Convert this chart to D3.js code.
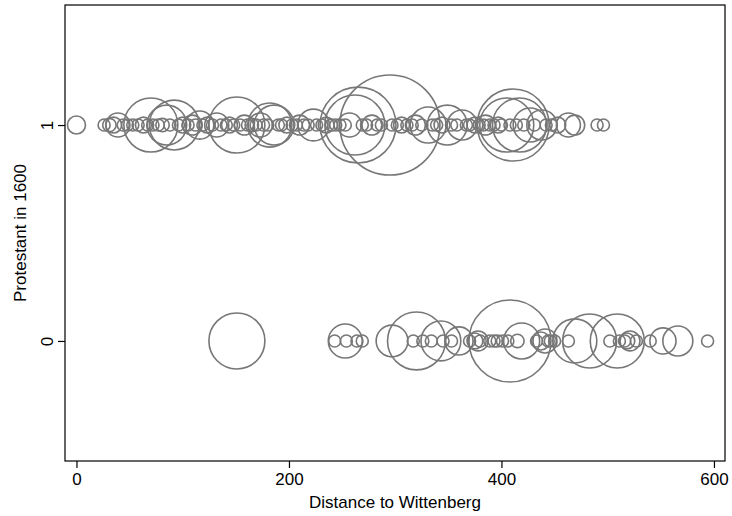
<!DOCTYPE html>
<html>
<head>
<meta charset="utf-8">
<script src="https://cdn.jsdelivr.net/npm/d3@7/dist/d3.min.js"></script>
<style>
  html, body { margin: 0; padding: 0; background: #fff; }
  svg { display: block; }
  text { font-family: "Liberation Sans", Arial, Helvetica, sans-serif; fill: #000; }
</style>
</head>
<body>
<svg id="chart" width="732" height="516"></svg>
<script>
// ---- Data ----
// Protestant in 1600 = 0
const dist0 = [151, 243, 254, 264, 269, 253, 297, 317, 320, 326, 334, 343, 345, 353, 360, 370, 375, 378, 380, 389,
  393, 396, 401, 406, 408, 415, 419, 433, 437, 441, 444, 446, 450, 463, 469, 483, 509, 502, 511, 516,
  518, 521, 527, 540, 552, 566, 594];
const weight0 = [87, 4, 4, 4, 4, 32, 28, 4, 93, 4, 4, 44, 4, 4, 22, 4, 7, 11, 4, 4,
  4, 4, 4, 4, 187, 5, 36, 4, 9, 16, 4, 4, 4, 4, 54, 81, 81, 4, 4, 4,
  7, 11, 4, 4, 19, 25, 4];
// Protestant in 1600 = 1
const dist1 = [0, 26, 31, 35, 39, 44, 48, 53, 58, 63, 67, 70, 72, 77, 81, 85, 88, 92, 96, 100,
  105, 109, 112, 116, 119, 123, 128, 132, 136, 141, 144, 148, 151, 154, 158, 161, 165, 169, 173, 176,
  180, 182, 186, 190, 193, 198, 203, 207, 210, 214, 218, 223, 226, 231, 235, 240, 244, 248, 253, 257,
  262, 265, 269, 273, 278, 283, 287, 295, 297, 302, 306, 311, 316, 319, 325, 331, 335, 339, 344, 349,
  353, 358, 363, 367, 370, 375, 379, 383, 385, 389, 393, 397, 400, 405, 408, 411, 414, 417, 421, 427,
  431, 438, 442, 447, 453, 463, 469, 490, 496];
const weight1 = [9, 4, 5, 7, 16, 4, 4, 4, 4, 7, 4, 81, 4, 4, 5, 44, 4, 69, 4, 7,
  4, 11, 4, 22, 4, 7, 4, 16, 4, 4, 7, 4, 87, 4, 11, 4, 5, 4, 16, 4,
  4, 54, 44, 4, 4, 7, 4, 4, 11, 4, 4, 28, 4, 4, 7, 4, 4, 4, 4, 16,
  100, 160, 4, 4, 11, 4, 4, 278, 4, 4, 7, 4, 4, 11, 4, 36, 4, 4, 7, 44,
  4, 4, 25, 4, 4, 7, 4, 4, 11, 4, 4, 7, 4, 81, 4, 144, 4, 81, 4, 32,
  4, 25, 4, 4, 7, 16, 11, 4, 4];
const xTicks = [0, 200, 400, 600];
const yTicks = [0, 1];
const xTitle = "Distance to Wittenberg";
const yTitle = "Protestant in 1600";

// ---- Layout ----
const svg = d3.select("#chart");
const L = 65, R = 725, T = 5, B = 461;
const FS = 17;

const x = d3.scaleLinear().domain([-10.8, 610.4]).range([L, R]);
const y = d3.scaleLinear().domain([-0.556, 1.556]).range([B, T]);
const r = d3.scaleSqrt().domain([0, 100]).range([0, 30]);

const points = [];
dist0.forEach((d, i) => points.push({ d, g: 0, w: weight0[i] }));
dist1.forEach((d, i) => points.push({ d, g: 1, w: weight1[i] }));

// circles
svg.append("g")
  .selectAll("circle")
  .data(points)
  .join("circle")
  .attr("cx", p => x(p.d))
  .attr("cy", p => y(p.g))
  .attr("r", p => r(p.w))
  .attr("fill", "none")
  .attr("stroke", "#777777")
  .attr("stroke-width", 1.6);

// frame
svg.append("rect")
  .attr("x", L).attr("y", T)
  .attr("width", R - L).attr("height", B - T)
  .attr("fill", "none").attr("stroke", "#000").attr("stroke-width", 1.2);

// x axis
const xAxis = svg.append("g")
  .attr("transform", `translate(0,${B})`)
  .call(d3.axisBottom(x).tickValues(xTicks).tickFormat(d3.format("d")).tickSize(7).tickSizeOuter(0).tickPadding(5));
xAxis.select(".domain").remove();
xAxis.selectAll("line").attr("stroke", "#000").attr("stroke-width", 1.2);
xAxis.selectAll("text")
  .attr("font-size", FS)
  .attr("font-family", "Liberation Sans, Arial, sans-serif")
  .attr("fill", "#000");

// y axis
const yAxis = svg.append("g")
  .attr("transform", `translate(${L},0)`)
  .call(d3.axisLeft(y).tickValues(yTicks).tickFormat(d3.format("d")).tickSize(7).tickSizeOuter(0));
yAxis.select(".domain").remove();
yAxis.selectAll("line").attr("stroke", "#000").attr("stroke-width", 1.2);
yAxis.selectAll("text")
  .attr("font-size", FS)
  .attr("font-family", "Liberation Sans, Arial, sans-serif")
  .attr("fill", "#000")
  .attr("x", null).attr("dy", null)
  .attr("text-anchor", "middle")
  .attr("transform", "translate(-12,0) rotate(-90)");

// axis titles
svg.append("text")
  .attr("x", (L + R) / 2).attr("y", 508)
  .attr("text-anchor", "middle")
  .attr("font-size", FS)
  .text(xTitle);

svg.append("text")
  .attr("transform", `translate(26,${(T + B) / 2}) rotate(-90)`)
  .attr("text-anchor", "middle")
  .attr("font-size", FS)
  .text(yTitle);
</script>
</body>
</html>
